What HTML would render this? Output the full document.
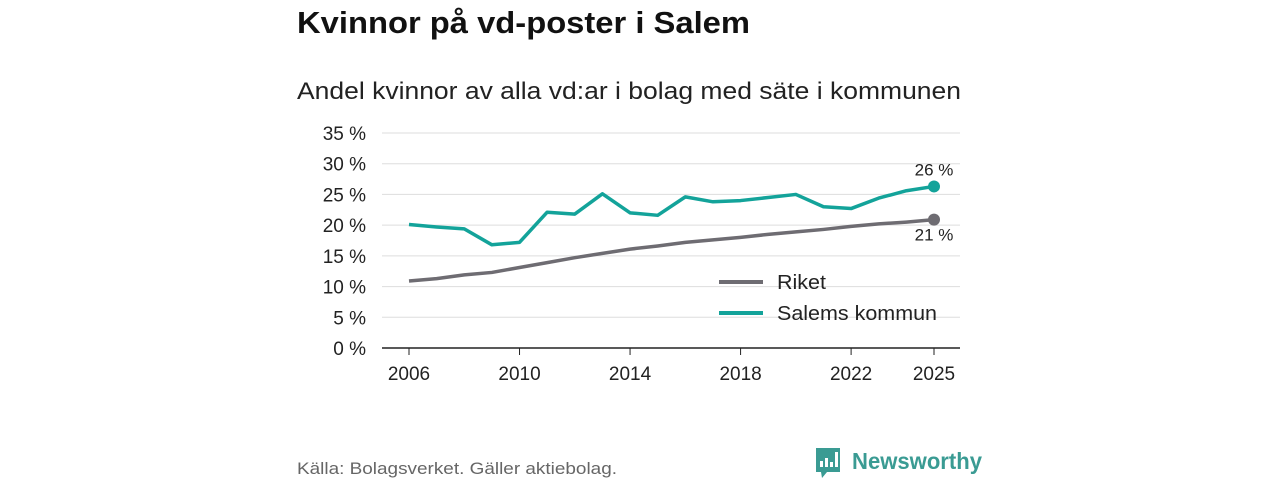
<!DOCTYPE html>
<html><head><meta charset="utf-8"><style>
body{margin:0;background:#fff;width:1280px;height:480px;overflow:hidden;font-family:"Liberation Sans",sans-serif}
</style></head><body>
<svg id="c" width="1280" height="480" xmlns="http://www.w3.org/2000/svg" font-family="Liberation Sans, sans-serif">
<text x="297" y="33" font-size="31" font-weight="bold" fill="#111" textLength="453" lengthAdjust="spacingAndGlyphs">Kvinnor på vd-poster i Salem</text>
<text x="297" y="99" font-size="24" fill="#222" textLength="664" lengthAdjust="spacingAndGlyphs">Andel kvinnor av alla vd:ar i bolag med säte i kommunen</text>
<g id="grid"></g><g id="axes"></g><g id="series"></g>
<g>
<line x1="719" y1="282" x2="763" y2="282" stroke="#6e6c72" stroke-width="4"/>
<text x="777" y="289" font-size="20" fill="#222" textLength="49" lengthAdjust="spacingAndGlyphs">Riket</text>
<line x1="719" y1="313" x2="763" y2="313" stroke="#13a39a" stroke-width="4"/>
<text x="777" y="320" font-size="20" fill="#222" textLength="160" lengthAdjust="spacingAndGlyphs">Salems kommun</text>
</g>
<text x="297" y="474" font-size="17" fill="#666" textLength="320" lengthAdjust="spacingAndGlyphs">Källa: Bolagsverket. Gäller aktiebolag.</text>
<g>
<path d="M816 448 h24 v24 h-13 l-5 6 l-1 -6 h-5 z" fill="#3a9b93"/>
<rect x="820" y="461" width="3" height="6" fill="#fff"/><rect x="825" y="458" width="3" height="9" fill="#fff"/><rect x="830" y="462" width="3" height="5" fill="#fff"/><rect x="835" y="452" width="3" height="15" fill="#fff"/>
<text x="852" y="469" font-size="23" font-weight="bold" fill="#3a9b93" textLength="130" lengthAdjust="spacingAndGlyphs">Newsworthy</text>
</g>
</svg>
<script>
const years=[2006,2007,2008,2009,2010,2011,2012,2013,2014,2015,2016,2017,2018,2019,2020,2021,2022,2023,2024,2025];
const riket=[10.9,11.3,11.9,12.3,13.1,13.9,14.7,15.4,16.1,16.6,17.2,17.6,18.0,18.5,18.9,19.3,19.8,20.2,20.5,20.9];
const salem=[20.1,19.7,19.4,16.8,17.2,22.1,21.8,25.1,22.0,21.6,24.6,23.8,24.0,24.5,25.0,23.0,22.7,24.4,25.6,26.3];
const yTicks=[0,5,10,15,20,25,30,35];
const xTicks=[2006,2010,2014,2018,2022,2025];
const NS="http://www.w3.org/2000/svg";
const x=v=>409+(v-2006)*(934-409)/19;
const y=v=>348-v*(348-133)/35;
function mk(t,a,p){const e=document.createElementNS(NS,t);for(const k in a)e.setAttribute(k,a[k]);document.getElementById(p).appendChild(e);return e;}
yTicks.forEach(t=>{
 const l=mk('line',{x1:382,x2:960,y1:y(t),y2:y(t),stroke:t===0?'#222':'#ddd','stroke-width':t===0?1.5:1},'grid');
 
 
 const tx=mk('text',{x:366,y:y(t)+7,'font-size':19,fill:'#222','text-anchor':'end'},'axes');tx.textContent=t+' %';
 
 
});
xTicks.forEach(t=>{
 const l=mk('line',{x1:x(t),x2:x(t),y1:348,y2:355,stroke:'#222'},'axes');
 
 
 const tx=mk('text',{x:x(t),y:380,'font-size':19,fill:'#222','text-anchor':'middle'},'axes');tx.textContent=t;
 
 
});
function line(vals,col,name,lblDy){
 const p=mk('polyline',{points:vals.map((v,i)=>x(years[i])+','+y(v)).join(' '),fill:'none',stroke:col,'stroke-width':3.5,'stroke-linejoin':'round'},'series');
 
 
 const n=vals.length-1;
 const c=mk('circle',{cx:x(years[n]),cy:y(vals[n]),r:6,fill:col},'series');
 
 
 const t=mk('text',{x:x(years[n]),y:y(vals[n])+lblDy,'font-size':17,fill:'#222','text-anchor':'middle'},'series');
 t.textContent=Math.round(vals[n])+' %';
 
 
}
line(riket,'#6e6c72','riket',21);
line(salem,'#13a39a','salem',-11);
</script>
</body></html>
